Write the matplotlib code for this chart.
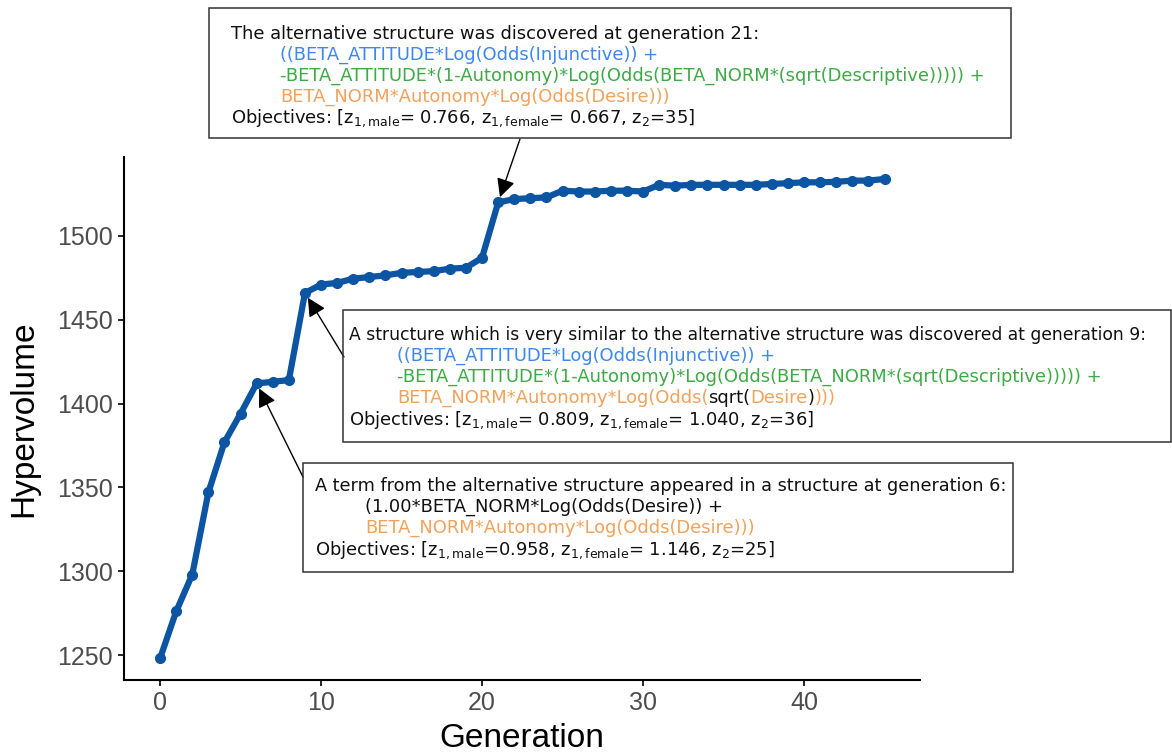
import numpy as np
import matplotlib
matplotlib.use("Agg")
import matplotlib.pyplot as plt
from matplotlib.patches import Rectangle

# hypervolume per generation
generation = np.arange(46)
hypervolume = [1248, 1276, 1298, 1347, 1377, 1394, 1412, 1413, 1414, 1466,
               1471, 1472, 1474.5, 1475.5, 1476.5, 1478, 1478.5, 1479, 1480.5, 1481,
               1487, 1520, 1522, 1522.5, 1523, 1527, 1526.5, 1526.5, 1527, 1527,
               1526.5, 1530.5, 1530, 1530.5, 1530.5, 1530.5, 1530.5, 1530.5, 1531, 1531.5,
               1532, 1532, 1532.3, 1533, 1533, 1534]

BLUE = '#3d87ee'
GREEN = '#3daa45'
ORANGE = '#f2a25a'
BLACK = '#111111'

W, H = 1172, 756
plt.rcParams['font.family'] = 'DejaVu Sans'
plt.rcParams['mathtext.fontset'] = 'dejavusans'

fig = plt.figure(figsize=(W / 100, H / 100), dpi=100)
ax = fig.add_axes([124 / W, 1 - 680 / H, (920 - 124) / W, (680 - 157) / H])

ax.plot(generation, hypervolume, color='#0b55a3', lw=4.5, marker='o', ms=7,
        solid_capstyle='round', zorder=3)

ax.set_xlim(-2.24, 47.2)
ax.set_ylim(1235.1, 1547.1)
ax.set_xticks([0, 10, 20, 30, 40])
ax.set_yticks([1250, 1300, 1350, 1400, 1450, 1500])
for s in ['top', 'right']:
    ax.spines[s].set_visible(False)
for s in ['left', 'bottom']:
    ax.spines[s].set_linewidth(1.5)
ax.tick_params(length=4, width=1.2, colors='black', labelcolor='#4d4d4d',
               labelsize=18, pad=4)
for lab in ax.get_xticklabels() + ax.get_yticklabels():
    lab.set_fontfamily('Liberation Sans')
ax.set_xlabel('Generation', fontsize=24, family='Liberation Sans', labelpad=6)
ax.set_ylabel('Hypervolume', fontsize=24, family='Liberation Sans', labelpad=13)

renderer = fig.canvas.get_renderer()
FS = 12.9


def box(x0, y0, x1, y1):
    fig.add_artist(Rectangle((x0 / W, 1 - y1 / H), (x1 - x0) / W, (y1 - y0) / H,
                             transform=fig.transFigure, fill=False,
                             edgecolor='#333333', lw=1.1, zorder=5))


def line(x, y, pieces, size=FS):
    for s, c in pieces:
        t = fig.text(x / W, 1 - y / H, s, color=c, fontsize=size, va='baseline',
                     ha='left', zorder=6)
        x += t.get_window_extent(renderer).width


def arrow(gen, val, x, y):
    ax.annotate('', xy=(gen, val), xycoords='data', xytext=(x, H - y),
                textcoords='figure pixels',
                arrowprops=dict(arrowstyle='-|>', color='black', lw=1.0,
                                mutation_scale=28, shrinkA=0, shrinkB=4),
                annotation_clip=False, zorder=4)


z1m = r'$\mathregular{z_{1,male}}$'
z1f = r'$\mathregular{z_{1,female}}$'
z2 = r'$\mathregular{z_2}$'

# box 1: generation 21
box(209, 8, 1011, 138)
line(231, 39, [('The alternative structure was discovered at generation 21:', BLACK)])
line(280, 60, [('((BETA_ATTITUDE*Log(Odds(Injunctive)) +', BLUE)])
line(280, 81, [('-BETA_ATTITUDE*(1-Autonomy)*Log(Odds(BETA_NORM*(sqrt(Descriptive))))) +', GREEN)])
line(280, 102, [('BETA_NORM*Autonomy*Log(Odds(Desire)))', ORANGE)])
line(231, 123, [('Objectives: [' + z1m + '= 0.766, ' + z1f + '= 0.667, ' + z2 + '=35]', BLACK)])
arrow(21, hypervolume[21], 520, 139)

# box 2: generation 9
box(343, 310, 1171, 442)
line(349, 340, [('A structure which is very similar to the alternative structure was discovered at generation 9:', BLACK)],
     size=12.35)
line(397, 361, [('((BETA_ATTITUDE*Log(Odds(Injunctive)) +', BLUE)])
line(397, 382, [('-BETA_ATTITUDE*(1-Autonomy)*Log(Odds(BETA_NORM*(sqrt(Descriptive))))) +', GREEN)])
line(397, 403, [('BETA_NORM*Autonomy*Log(Odds(', ORANGE), ('sqrt(', BLACK),
                ('Desire', ORANGE), (')', BLACK), (')))', ORANGE)])
line(349, 425, [('Objectives: [' + z1m + '= 0.809, ' + z1f + '= 1.040, ' + z2 + '=36]', BLACK)])
arrow(9, hypervolume[9], 344, 357)

# box 3: generation 6
box(303, 463, 1013, 572)
line(315, 491, [('A term from the alternative structure appeared in a structure at generation 6:', BLACK)],
     size=12.7)
line(365, 512, [('(1.00*BETA_NORM*Log(Odds(Desire)) +', BLACK)])
line(365, 533, [('BETA_NORM*Autonomy*Log(Odds(Desire)))', ORANGE)])
line(315, 555, [('Objectives: [' + z1m + '=0.958, ' + z1f + '= 1.146, ' + z2 + '=25]', BLACK)])
arrow(6, hypervolume[6], 303, 477)

fig.savefig('out.png', dpi=100)
